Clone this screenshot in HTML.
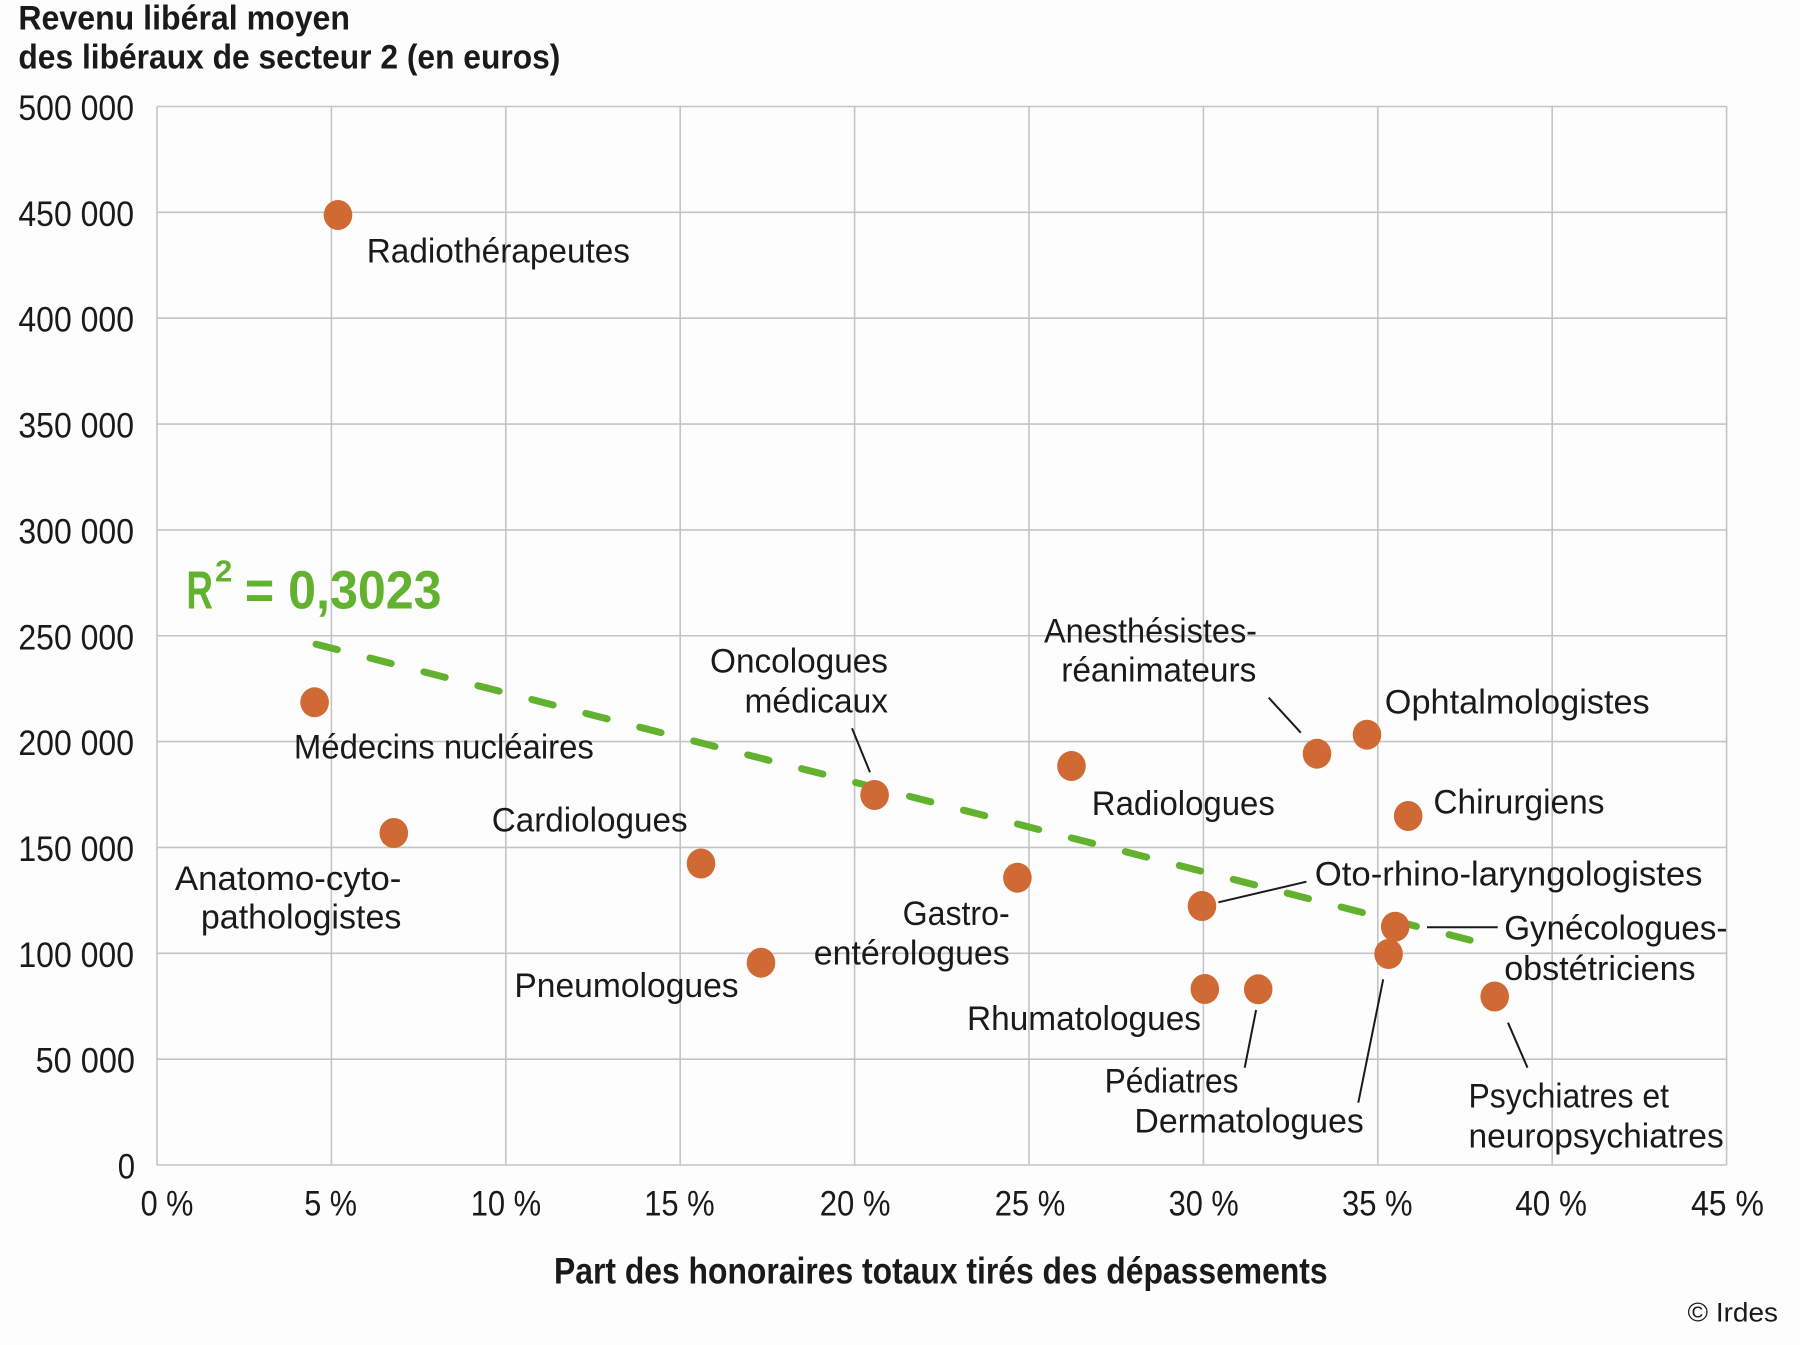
<!DOCTYPE html>
<html>
<head>
<meta charset="utf-8">
<style>
  html, body { margin:0; padding:0; background:#fdfdfd; }
  svg { display:block; }
  text { font-family: "Liberation Sans", "DejaVu Sans", sans-serif; fill:#1a1a1a; }
  .lbl { font-size:34px; }
  .tk { font-size:35px; }
  .b { font-weight:bold; }
</style>
</head>
<body>
<svg width="1800" height="1345" viewBox="0 0 1800 1345" xmlns="http://www.w3.org/2000/svg">
  <rect x="0" y="0" width="1800" height="1345" fill="#fdfdfd"/>

  <!-- Titles -->
  <text class="b" x="18.4" y="29.3" font-size="34" textLength="331.6" lengthAdjust="spacingAndGlyphs">Revenu libéral moyen</text>
  <text class="b" x="18.4" y="68.3" font-size="34" textLength="542" lengthAdjust="spacingAndGlyphs">des libéraux de secteur 2 (en euros)</text>

  <!-- Grid -->
  <g stroke="#c4c4c4" stroke-width="1.6" fill="none">
    <line x1="157" y1="106.5" x2="1726.6" y2="106.5"/>
    <line x1="157" y1="212.35" x2="1726.6" y2="212.35"/>
    <line x1="157" y1="318.2" x2="1726.6" y2="318.2"/>
    <line x1="157" y1="424.05" x2="1726.6" y2="424.05"/>
    <line x1="157" y1="529.9" x2="1726.6" y2="529.9"/>
    <line x1="157" y1="635.75" x2="1726.6" y2="635.75"/>
    <line x1="157" y1="741.6" x2="1726.6" y2="741.6"/>
    <line x1="157" y1="847.45" x2="1726.6" y2="847.45"/>
    <line x1="157" y1="953.3" x2="1726.6" y2="953.3"/>
    <line x1="157" y1="1059.15" x2="1726.6" y2="1059.15"/>
    <line x1="157" y1="1165" x2="1726.6" y2="1165"/>

    <line x1="157" y1="106.5" x2="157" y2="1165"/>
    <line x1="331.4" y1="106.5" x2="331.4" y2="1165"/>
    <line x1="505.8" y1="106.5" x2="505.8" y2="1165"/>
    <line x1="680.2" y1="106.5" x2="680.2" y2="1165"/>
    <line x1="854.6" y1="106.5" x2="854.6" y2="1165"/>
    <line x1="1029" y1="106.5" x2="1029" y2="1165"/>
    <line x1="1203.4" y1="106.5" x2="1203.4" y2="1165"/>
    <line x1="1377.8" y1="106.5" x2="1377.8" y2="1165"/>
    <line x1="1552.2" y1="106.5" x2="1552.2" y2="1165"/>
    <line x1="1726.6" y1="106.5" x2="1726.6" y2="1165"/>
  </g>

  <!-- Y tick labels -->
  <g class="tk">
    <text x="18.4" y="120" textLength="115.6" lengthAdjust="spacingAndGlyphs">500 000</text>
    <text x="18.4" y="225.85" textLength="115.6" lengthAdjust="spacingAndGlyphs">450 000</text>
    <text x="18.4" y="331.7" textLength="115.6" lengthAdjust="spacingAndGlyphs">400 000</text>
    <text x="18.4" y="437.55" textLength="115.6" lengthAdjust="spacingAndGlyphs">350 000</text>
    <text x="18.4" y="543.4" textLength="115.6" lengthAdjust="spacingAndGlyphs">300 000</text>
    <text x="18.4" y="649.25" textLength="115.6" lengthAdjust="spacingAndGlyphs">250 000</text>
    <text x="18.4" y="755.1" textLength="115.6" lengthAdjust="spacingAndGlyphs">200 000</text>
    <text x="18.4" y="860.95" textLength="115.6" lengthAdjust="spacingAndGlyphs">150 000</text>
    <text x="18.4" y="966.8" textLength="115.6" lengthAdjust="spacingAndGlyphs">100 000</text>
    <text x="35.6" y="1072.65" textLength="99.4" lengthAdjust="spacingAndGlyphs">50 000</text>
    <text x="117.7" y="1178.5" textLength="17.3" lengthAdjust="spacingAndGlyphs">0</text>
  </g>

  <!-- X tick labels -->
  <g class="tk">
    <text x="140.6" y="1215.7" textLength="52.8" lengthAdjust="spacingAndGlyphs">0 %</text>
    <text x="304.2" y="1215.7" textLength="52.8" lengthAdjust="spacingAndGlyphs">5 %</text>
    <text x="470.7" y="1215.7" textLength="70.5" lengthAdjust="spacingAndGlyphs">10 %</text>
    <text x="644.2" y="1215.7" textLength="70.5" lengthAdjust="spacingAndGlyphs">15 %</text>
    <text x="819.7" y="1215.7" textLength="70.8" lengthAdjust="spacingAndGlyphs">20 %</text>
    <text x="994.7" y="1215.7" textLength="70.6" lengthAdjust="spacingAndGlyphs">25 %</text>
    <text x="1168.6" y="1215.7" textLength="70.1" lengthAdjust="spacingAndGlyphs">30 %</text>
    <text x="1342" y="1215.7" textLength="70.6" lengthAdjust="spacingAndGlyphs">35 %</text>
    <text x="1515.3" y="1215.7" textLength="71.7" lengthAdjust="spacingAndGlyphs">40 %</text>
    <text x="1691" y="1215.7" textLength="72.9" lengthAdjust="spacingAndGlyphs">45 %</text>
  </g>

  <!-- X axis title -->
  <text class="b" x="554" y="1283.3" font-size="37" textLength="773.6" lengthAdjust="spacingAndGlyphs">Part des honoraires totaux tirés des dépassements</text>

  <!-- Copyright -->
  <text x="1687.5" y="1321.7" font-size="27" textLength="90.5" lengthAdjust="spacingAndGlyphs">© Irdes</text>

  <!-- Trend line -->
  <line x1="316" y1="644.2" x2="1470.2" y2="940.1" stroke="#62b22f" stroke-width="7" stroke-linecap="round" stroke-dasharray="22 33.7"/>

  <!-- R² -->
  <text class="b" x="186.4" y="608.3" font-size="54" fill="#62b22f" style="fill:#62b22f" textLength="26.6" lengthAdjust="spacingAndGlyphs">R</text>
  <text class="b" x="215" y="581.7" font-size="31" style="fill:#62b22f" textLength="17.3" lengthAdjust="spacingAndGlyphs">2</text>
  <text class="b" x="244.9" y="608.3" font-size="54" style="fill:#62b22f" textLength="196.7" lengthAdjust="spacingAndGlyphs">= 0,3023</text>

  <!-- Leader lines -->
  <g stroke="#1a1a1a" stroke-width="2" fill="none">
    <line x1="852" y1="728.3" x2="870" y2="772.3"/>
    <line x1="1268.7" y1="697.7" x2="1300.8" y2="732.7"/>
    <line x1="1218.4" y1="902.3" x2="1306.4" y2="881.7"/>
    <line x1="1427" y1="927.3" x2="1497.7" y2="927.3"/>
    <line x1="1256.1" y1="1010" x2="1244.7" y2="1067.7"/>
    <line x1="1383.2" y1="979.3" x2="1358.3" y2="1102.7"/>
    <line x1="1508" y1="1022.7" x2="1527.5" y2="1067.7"/>
  </g>

  <!-- Data points -->
  <g fill="#d06a34">
    <ellipse cx="338" cy="215" rx="14.3" ry="15"/>
    <ellipse cx="314.6" cy="702.3" rx="14.3" ry="15"/>
    <ellipse cx="393.8" cy="833" rx="14.3" ry="15"/>
    <ellipse cx="701" cy="863.5" rx="14.3" ry="15"/>
    <ellipse cx="761" cy="962.7" rx="14.3" ry="15"/>
    <ellipse cx="874.6" cy="795" rx="14.3" ry="15"/>
    <ellipse cx="1017.4" cy="877.7" rx="14.3" ry="15"/>
    <ellipse cx="1071.5" cy="766" rx="14.3" ry="15"/>
    <ellipse cx="1202" cy="906" rx="14.3" ry="15"/>
    <ellipse cx="1204.8" cy="989" rx="14.3" ry="15"/>
    <ellipse cx="1258.2" cy="989.3" rx="14.3" ry="15"/>
    <ellipse cx="1317" cy="753.7" rx="14.3" ry="15"/>
    <ellipse cx="1367" cy="734.7" rx="14.3" ry="15"/>
    <ellipse cx="1408.2" cy="816" rx="14.3" ry="15"/>
    <ellipse cx="1388.6" cy="954" rx="14.3" ry="15"/>
    <ellipse cx="1395.2" cy="926.7" rx="14.3" ry="15"/>
    <ellipse cx="1494.7" cy="996.5" rx="14.3" ry="15"/>
  </g>

  <!-- Labels -->
  <g class="lbl">
    <text x="366.7" y="262.7" textLength="263.3" lengthAdjust="spacingAndGlyphs">Radiothérapeutes</text>
    <text x="293.9" y="758.3" textLength="300" lengthAdjust="spacingAndGlyphs">Médecins nucléaires</text>
    <text x="174.9" y="890" textLength="226.5" lengthAdjust="spacingAndGlyphs">Anatomo-cyto-</text>
    <text x="200.9" y="928.3" textLength="200.5" lengthAdjust="spacingAndGlyphs">pathologistes</text>
    <text x="491.7" y="831.7" textLength="196" lengthAdjust="spacingAndGlyphs">Cardiologues</text>
    <text x="514.4" y="997" textLength="224.2" lengthAdjust="spacingAndGlyphs">Pneumologues</text>
    <text x="710" y="672.7" textLength="178" lengthAdjust="spacingAndGlyphs">Oncologues</text>
    <text x="744.5" y="712.7" textLength="143.5" lengthAdjust="spacingAndGlyphs">médicaux</text>
    <text x="902.6" y="925" textLength="107.1" lengthAdjust="spacingAndGlyphs">Gastro-</text>
    <text x="813.8" y="964.3" textLength="195.9" lengthAdjust="spacingAndGlyphs">entérologues</text>
    <text x="1091.8" y="815" textLength="183" lengthAdjust="spacingAndGlyphs">Radiologues</text>
    <text x="967" y="1030" textLength="234" lengthAdjust="spacingAndGlyphs">Rhumatologues</text>
    <text x="1044" y="642.7" textLength="213" lengthAdjust="spacingAndGlyphs">Anesthésistes-</text>
    <text x="1061.2" y="681.7" textLength="195.2" lengthAdjust="spacingAndGlyphs">réanimateurs</text>
    <text x="1384.8" y="713.3" textLength="264.9" lengthAdjust="spacingAndGlyphs">Ophtalmologistes</text>
    <text x="1433.4" y="813.3" textLength="171.1" lengthAdjust="spacingAndGlyphs">Chirurgiens</text>
    <text x="1314.8" y="885.7" textLength="387.7" lengthAdjust="spacingAndGlyphs">Oto-rhino-laryngologistes</text>
    <text x="1504.2" y="939.3" textLength="223.2" lengthAdjust="spacingAndGlyphs">Gynécologues-</text>
    <text x="1504.2" y="980" textLength="191.4" lengthAdjust="spacingAndGlyphs">obstétriciens</text>
    <text x="1104.6" y="1092.7" textLength="133.9" lengthAdjust="spacingAndGlyphs">Pédiatres</text>
    <text x="1134.4" y="1132.7" textLength="229.4" lengthAdjust="spacingAndGlyphs">Dermatologues</text>
    <text x="1468.5" y="1107.7" textLength="200.5" lengthAdjust="spacingAndGlyphs">Psychiatres et</text>
    <text x="1468.5" y="1147.3" textLength="255.2" lengthAdjust="spacingAndGlyphs">neuropsychiatres</text>
  </g>
</svg>
</body>
</html>
